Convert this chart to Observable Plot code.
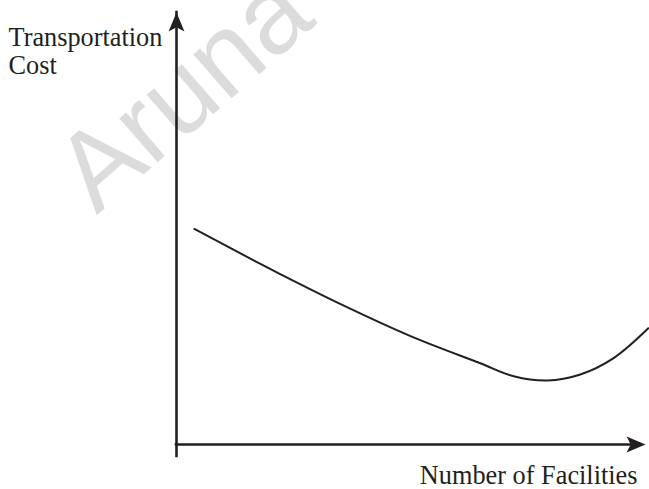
<!DOCTYPE html>
<html><head><meta charset="utf-8">
<script src="https://cdn.jsdelivr.net/npm/d3@7"></script>
<script src="https://cdn.jsdelivr.net/npm/@observablehq/plot@0.6"></script>
<style>html,body{margin:0;padding:0;background:#fff;}</style>
</head><body><div id="chart"></div>
<script>
// Curve (arbitrary units, axes run 0..100)
const facilities = [3.8, 17.9, 22.2, 35.0, 49.9, 64.8, 71.9, 79.1, 86.1, 93.2, 100.6];
const cost       = [49.9, 41.8, 39.4, 32.5, 25.1, 18.8, 15.8, 14.8, 16.2, 20.0, 26.9];
const yLabelLines = ["Transportation", "Cost"];
const xLabel = "Number of Facilities";
const watermark = "Aruna";
const xMax = 100, yMax = 100;

const ink = "#231f20";
const curve = facilities.map((x, i) => ({x, y: cost[i]}));

const arrowHead = {
  draw(ctx, size) {
    const r = Math.sqrt(size / Math.PI);
    const L = r * 2.2, w = r * 1.85;
    ctx.moveTo(0, 0);
    ctx.lineTo(w / 2, L);
    ctx.lineTo(0, L * 0.78);
    ctx.lineTo(-w / 2, L);
    ctx.closePath();
  }
};

const chart = Plot.plot({
  width: 649,
  height: 489,
  marginLeft: 176,
  marginRight: 4,
  marginTop: 12,
  marginBottom: 45,
  x: {domain: [0, xMax], axis: null},
  y: {domain: [0, yMax], axis: null},
  style: {background: "#fff", overflow: "hidden"},
  marks: [
    Plot.text([watermark], {
      text: d => d, frameAnchor: "top-left", dx: -80, dy: 203,
      textAnchor: "start", lineAnchor: "bottom", rotate: -41,
      fontSize: 110, fontFamily: "Liberation Sans, Arial, sans-serif",
      fill: "#dcdcdc"
    }),
    Plot.ruleX([0], {y1: 0, y2: yMax, insetTop: 12, stroke: ink, strokeWidth: 2.6, strokeLinecap: "square"}),
    Plot.ruleY([0], {x1: 0, x2: xMax, insetRight: 12, stroke: ink, strokeWidth: 2.6, strokeLinecap: "square"}),
    Plot.dot([{x: 0, y: yMax}], {x: "x", y: "y", symbol: arrowHead, r: 8.6, fill: ink, rotate: 0}),
    Plot.dot([{x: xMax, y: 0}], {x: "x", y: "y", symbol: arrowHead, r: 8.6, fill: ink, rotate: 90}),
    Plot.line(curve, {x: "x", y: "y", curve: "catmull-rom", stroke: ink, strokeWidth: 2}),
    Plot.text([yLabelLines.join("\n")], {
      text: d => d, frameAnchor: "top-left", dx: -168, dy: 14,
      textAnchor: "start", lineAnchor: "top", lineHeight: 1.05,
      fontSize: 26.3, fontFamily: "Liberation Serif, Times New Roman, serif", fill: ink
    }),
    Plot.text([xLabel], {
      text: d => d, frameAnchor: "bottom-right", dx: -8, dy: 39,
      textAnchor: "end", lineAnchor: "bottom",
      fontSize: 26.3, fontFamily: "Liberation Serif, Times New Roman, serif", fill: ink
    })
  ]
});
document.getElementById("chart").append(chart);
</script>
</body></html>
